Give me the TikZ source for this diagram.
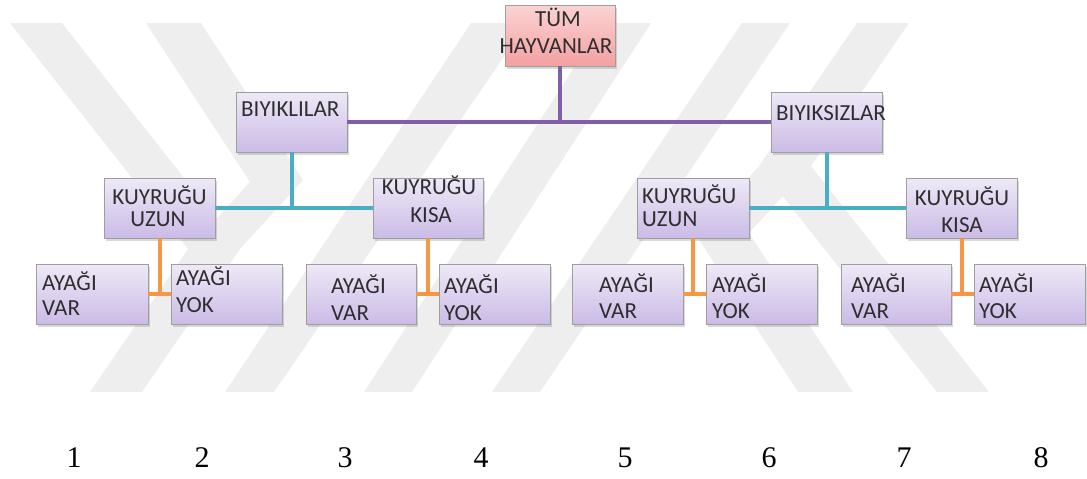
\documentclass[tikz,border=0pt]{standalone}
\usepackage{fontspec}
\setmainfont{Liberation Serif}
\newfontfamily\boxfont{Carlito}
\usetikzlibrary{shadows}
\definecolor{wmgray}{HTML}{EEEEEE}
\definecolor{pTop}{HTML}{EEE9F7}
\definecolor{pBot}{HTML}{CBBBE6}
\definecolor{rTop}{HTML}{FBD3D3}
\definecolor{rBot}{HTML}{F4A0A2}
\definecolor{boxborder}{HTML}{9E9E9E}
\definecolor{lnPurple}{HTML}{7F60A8}
\definecolor{lnCyan}{HTML}{4BACC6}
\definecolor{lnOrange}{HTML}{F79646}
\tikzset{
  box/.style={rectangle, draw=boxborder, line width=0.8pt, top color=pTop, bottom color=pBot,
    minimum width=111pt, minimum height=60pt, inner sep=0pt,
    drop shadow={shadow xshift=1.5pt, shadow yshift=-2.5pt, opacity=0.3}},
  rootbox/.style={box, top color=rTop, bottom color=rBot},
  lbl/.style={font=\boxfont\fontsize{23}{23}\selectfont, text=black!82, inner sep=0pt, anchor=base west},
  clbl/.style={lbl, anchor=base},
  num/.style={font=\fontsize{30}{30}\selectfont, inner sep=0pt, anchor=base},
  purpleline/.style={draw=lnPurple, line width=4pt},
  cyanline/.style={draw=lnCyan, line width=4pt},
  orangeline/.style={draw=lnOrange, line width=4pt},
  wm/.style={fill=wmgray}
}
\begin{document}
\begin{tikzpicture}[x=1pt, y=-1pt]
\useasboundingbox (0,0) rectangle (1087,479);
% watermark
\fill[wm] (10,23) -- (62,23) -- (240,249) -- (142,392) -- (90,392) -- (188,249) -- cycle;
\fill[wm] (146,23) -- (201,23) -- (303,180) -- (240,249) -- (216,219) -- (250,182) -- cycle;
\fill[wm] (989,392) -- (937,392) -- (759,166) -- (857,23) -- (909,23) -- (811,166) -- cycle;
\fill[wm] (853,392) -- (798,392) -- (696,235) -- (759,166) -- (783,196) -- (749,233) -- cycle;
\fill[wm] (471,23) -- (527,23) -- (274,392) -- (225,392) -- cycle;
\fill[wm] (603,23) -- (651,23) -- (412,392) -- (364,392) -- cycle;
\fill[wm] (742,23) -- (790,23) -- (540,392) -- (492,392) -- cycle;
% boxes
\node[rootbox, minimum width=110pt, minimum height=61pt] (tum) at (560,35.5) {};
\node[box] (biyikli) at (291.5,122) {};
\node[box] (biyiksiz) at (826.5,122) {};
\node[box] (kuz1) at (159.5,208) {};
\node[box, minimum width=110pt] (kkis1) at (428,208) {};
\node[box, minimum width=112pt] (kuz2) at (693,208) {};
\node[box] (kkis2) at (961.5,208) {};
\node[box, minimum width=112pt] (v1) at (92,294) {};
\node[box] (y1) at (226.5,294) {};
\node[box, minimum width=110pt] (v2) at (361,294) {};
\node[box] (y2) at (494.5,294) {};
\node[box] (v3) at (627.5,294) {};
\node[box] (y3) at (761.5,294) {};
\node[box, minimum width=110pt] (v4) at (896,294) {};
\node[box] (y4) at (1029.5,294) {};
% connectors
\draw[purpleline] (tum.south) -- (tum.south |- biyikli.east);
\draw[purpleline] (biyikli.east) -- (biyiksiz.west);
\draw[cyanline] (biyikli.south) -- (biyikli.south |- kuz1.east);
\draw[cyanline] (kuz1.east) -- (kkis1.west);
\draw[cyanline] (biyiksiz.south) -- (biyiksiz.south |- kuz2.east);
\draw[cyanline] (kuz2.east) -- (kkis2.west);
\draw[orangeline] (kuz1.south) -- (kuz1.south |- v1.east);
\draw[orangeline] (v1.east) -- (y1.west);
\draw[orangeline] (kkis1.south) -- (kkis1.south |- v2.east);
\draw[orangeline] (v2.east) -- (y2.west);
\draw[orangeline] (kuz2.south) -- (kuz2.south |- v3.east);
\draw[orangeline] (v3.east) -- (y3.west);
\draw[orangeline] (kkis2.south) -- (kkis2.south |- v4.east);
\draw[orangeline] (v4.east) -- (y4.west);
% labels
\node[clbl] (t1) at (558,27) {TÜM};
\node[clbl] (t2) at (556,53) {HAYVANLAR};
\node[lbl] (t3) at (241,116) {BIYIKLILAR};
\node[lbl] (t4) at (776,120) {BIYIKSIZLAR};
\node[clbl] (t5) at (159.5,204) {KUYRUĞU};
\node[clbl] (t6) at (158,226) {UZUN};
\node[clbl] (t7) at (429,194) {KUYRUĞU};
\node[clbl] (t8) at (431,222) {KISA};
\node[lbl] (t9) at (642,203) {KUYRUĞU};
\node[lbl] (t10) at (642,226) {UZUN};
\node[clbl] (t11) at (962,205) {KUYRUĞU};
\node[clbl] (t12) at (962,232) {KISA};
\node[lbl] (a1) at (42,290) {AYAĞI};
\node[lbl] (a2) at (42,315) {VAR};
\node[lbl] (a3) at (176,285) {AYAĞI};
\node[lbl] (a4) at (176,312) {YOK};
\node[lbl] (a5) at (331,293) {AYAĞI};
\node[lbl] (a6) at (331,320) {VAR};
\node[lbl] (a7) at (444,293) {AYAĞI};
\node[lbl] (a8) at (444,320) {YOK};
\node[lbl] (a9) at (599,292) {AYAĞI};
\node[lbl] (a10) at (599,318) {VAR};
\node[lbl] (a11) at (712,292) {AYAĞI};
\node[lbl] (a12) at (712,318) {YOK};
\node[lbl] (a13) at (851,292) {AYAĞI};
\node[lbl] (a14) at (851,318) {VAR};
\node[lbl] (a15) at (979,292) {AYAĞI};
\node[lbl] (a16) at (979,318) {YOK};
% numbers
\node[num] (n1) at (74,467) {1};
\node[num] (n2) at (202,467) {2};
\node[num] (n3) at (345,467) {3};
\node[num] (n4) at (481,467) {4};
\node[num] (n5) at (625,467) {5};
\node[num] (n6) at (769,467) {6};
\node[num] (n7) at (904,467) {7};
\node[num] (n8) at (1041,467) {8};
\end{tikzpicture}
\end{document}
